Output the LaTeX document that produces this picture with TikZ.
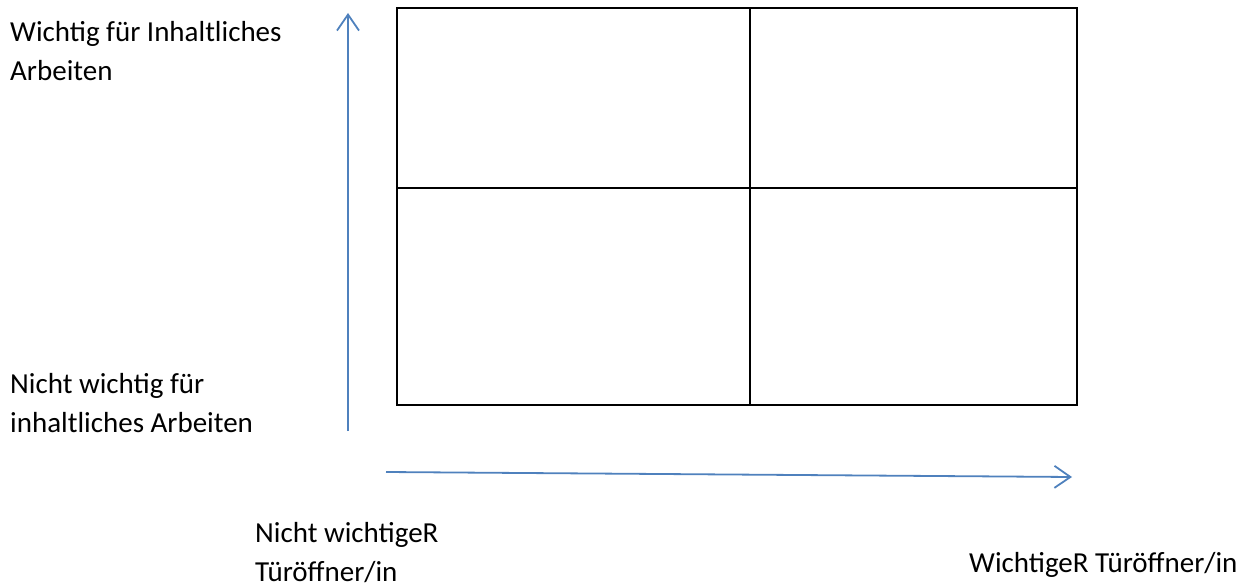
\documentclass[tikz,border=0pt]{standalone}
\usepackage{fontspec}
\setmainfont{Carlito}
\usetikzlibrary{calc, positioning}
\usetikzlibrary{arrows.meta}

\definecolor{axisblue}{RGB}{79,129,189}

\begin{document}
\begin{tikzpicture}[x=1pt, y=-1pt,
  axis/.style={draw=axisblue, line width=1.8pt, -{Straight Barb[length=16pt, width=22pt, line width=1.8pt]}},
  grid/.style={draw=black, line width=2pt},
  lbl/.style={font=\fontsize{29}{39}\selectfont, align=left, anchor=base west, inner sep=0pt}]
\useasboundingbox (0,0) rectangle (1247,588);

\coordinate (O) at (397,405);
\coordinate (A) at (1077,405);
\coordinate (B) at (1077,8);
\coordinate (C) at (397,8);
\coordinate (ML) at (397,188);
\coordinate (MR) at (1077,188);
\coordinate (MT) at (750,8);
\coordinate (MB) at (750,405);

\coordinate (V1) at (348,431);
\coordinate (V2) at (348,13);
\coordinate (H1) at (386,472);
\coordinate (H2) at (1072,477);

% matrix
\draw[grid] (O) -- (A) -- (B) -- (C) -- cycle;
\draw[grid] (ML) -- (MR);
\draw[grid] (MT) -- (MB);

% axes
\draw[axis] (V1) -- (V2);
\draw[axis] (H1) -- (H2);

% labels (base = last line)
\node[lbl] (yhigh) at (10,81) {Wichtig für Inhaltliches\\Arbeiten};
\node[lbl] (ylow) at (10,432) {Nicht wichtig für\\inhaltliches Arbeiten};
\node[lbl] (xlow) at (255,581) {Nicht wichtigeR\\Türöffner/in};
\node[lbl] (xhigh) at (969,572) {WichtigeR Türöffner/in};
\end{tikzpicture}
\end{document}
